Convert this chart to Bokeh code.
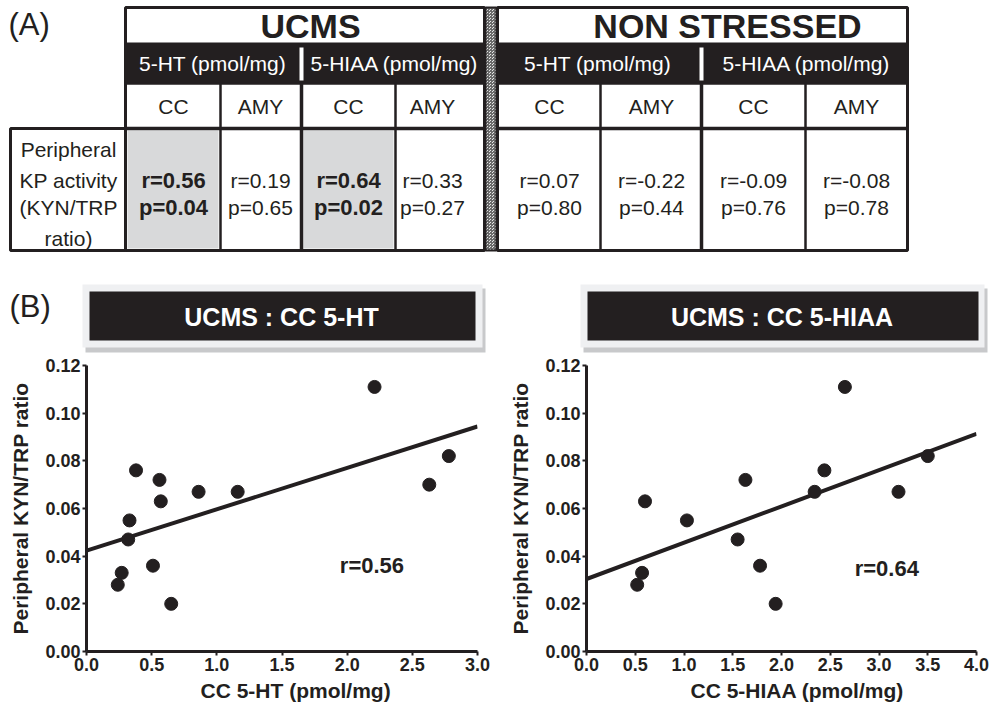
from bokeh.plotting import figure
from bokeh.layouts import column, row
from bokeh.models import Range1d, Label, FixedTicker, PrintfTickFormatter, Title
from bokeh.embed import file_html
from bokeh.resources import INLINE
from bokeh.core.properties import value

FONT = "Liberation Sans"
INK = "#231f20"

# ------------------------------------------------------------------ data
groups = ["UCMS", "NON STRESSED"]
measures = ["5-HT (pmol/mg)", "5-HIAA (pmol/mg)"]
regions = ["CC", "AMY"]
row_label = ["Peripheral", "KP activity", "(KYN/TRP", "ratio)"]
# order: UCMS 5-HT CC, AMY, 5-HIAA CC, AMY, NON STRESSED 5-HT CC, AMY, 5-HIAA CC, AMY
r_values = [0.56, 0.19, 0.64, 0.33, 0.07, -0.22, -0.09, -0.08]
p_values = [0.04, 0.65, 0.02, 0.27, 0.80, 0.44, 0.76, 0.78]

cc_5ht = [2.21, 2.78, 2.63, 0.38, 0.56, 0.57, 0.86, 1.16, 0.33, 0.32, 0.51, 0.27, 0.24, 0.65]
ratio_5ht = [0.111, 0.082, 0.070, 0.076, 0.072, 0.063, 0.067, 0.067, 0.055, 0.047, 0.036, 0.033, 0.028, 0.020]
cc_5hiaa = [2.65, 3.50, 3.20, 2.44, 2.34, 1.63, 0.60, 1.03, 1.55, 1.78, 0.57, 0.52, 1.94]
ratio_5hiaa = [0.111, 0.082, 0.067, 0.076, 0.067, 0.072, 0.063, 0.055, 0.047, 0.036, 0.033, 0.028, 0.020]
fit_5ht = [0.0423, 0.01737]     # intercept, slope
fit_5hiaa = [0.0304, 0.01523]   # intercept, slope
r_5ht_text = "r=0.56"
r_5hiaa_text = "r=0.64"
x_ticks_5ht = [0.0, 0.5, 1.0, 1.5, 2.0, 2.5, 3.0]
x_ticks_5hiaa = [0.0, 0.5, 1.0, 1.5, 2.0, 2.5, 3.0, 3.5, 4.0]
y_ticks = [0.0, 0.02, 0.04, 0.06, 0.08, 0.10, 0.12]

# ------------------------------------------------------------------ layout (pixels)
block_edges = [[125, 220, 301, 395, 484], [497, 600, 701, 805, 907]]
block_title_x = [310, 727]
measure_x = [[212, 394], [597, 806]]
cell_text_x = [[173, 260, 348, 432], [549, 651, 753, 856]]
Y_TOP, Y_H1, Y_H2, Y_H3, Y_BOT = 7, 42, 83, 128, 250


def pix_fig(w, h, y0):
    p = figure(width=w, height=h, x_range=Range1d(0, w), y_range=Range1d(y0 + h, y0),
               output_backend="svg", toolbar_location=None,
               x_axis_type=None, y_axis_type=None, min_border=0)
    p.outline_line_color = None
    p.background_fill_color = "white"
    p.border_fill_color = "white"
    return p


def txt(p, xs, ys, texts, size, color=INK, bold=False, align="center"):
    p.text(x=xs, y=ys, text=texts, text_font=value(FONT), text_font_size=size,
           text_color=color, text_align=align, text_baseline="middle",
           text_font_style="bold" if bold else "normal")


# ------------------------------------------------------------------ table (A)
top = pix_fig(990, 270, 0)
txt(top, [8], [24], ["(A)"], "31px", align="left")

for b, edges in enumerate(block_edges):
    L, R = edges[0], edges[-1]
    top.quad(left=[L], right=[R], top=[Y_TOP], bottom=[Y_BOT], fill_color="white", line_color=None)
    top.quad(left=[L], right=[R], top=[Y_H1], bottom=[Y_H2], fill_color=INK, line_color=None)
    mid = edges[2]
    top.quad(left=[mid - 2], right=[mid + 2], top=[Y_H1 + 5], bottom=[Y_H2 - 3], fill_color="white", line_color=None)
    for c in range(4):
        k = b * 4 + c
        if p_values[k] < 0.05:
            top.quad(left=[edges[c] + 2], right=[edges[c + 1] - 2], top=[Y_H3 + 2], bottom=[Y_BOT - 2],
                     fill_color="#d8d9da", line_color=None)
    # lines
    top.segment(x0=[L], x1=[R], y0=[Y_H2], y1=[Y_H2], line_color=INK, line_width=2.5)
    top.segment(x0=[L], x1=[R], y0=[Y_H3], y1=[Y_H3], line_color=INK, line_width=3.5)
    top.segment(x0=edges[1:4], x1=edges[1:4], y0=[Y_H2] * 3, y1=[Y_BOT] * 3, line_color=INK,
                line_width=[2.5, 3.5, 2.5])
    top.quad(left=[L], right=[R], top=[Y_TOP], bottom=[Y_BOT], fill_color=None, line_color=INK, line_width=3)
    # texts
    txt(top, [block_title_x[b]], [25], [groups[b]], "34px", bold=True)
    txt(top, measure_x[b], [63, 63], measures, "21px", color="white")
    txt(top, cell_text_x[b], [106] * 4, regions * 2, "21px")
    for c in range(4):
        k = b * 4 + c
        sig = p_values[k] < 0.05
        txt(top, [cell_text_x[b][c]] * 2, [180, 207],
            ["r=%.2f" % r_values[k], "p=%.2f" % p_values[k]],
            "22px" if sig else "21px", bold=sig)

# separator between blocks
top.quad(left=[485], right=[496], top=[Y_TOP], bottom=[Y_BOT], fill_color="#e6e6e6",
         hatch_pattern="criss_cross", hatch_scale=3, hatch_color="#6a6a6a", line_color=INK, line_width=2)

# row label cell
top.quad(left=[10], right=[125], top=[Y_H3], bottom=[Y_BOT], fill_color="white", line_color=INK, line_width=3)
txt(top, [68] * 4, [149, 180, 207, 238], row_label, "21px")

# ------------------------------------------------------------------ header (B)
head = pix_fig(990, 85, 270)
txt(head, [9], [306], ["(B)"], "31px", align="left")
boxes = [(82, 482, 89, 475), (580, 984, 587, 978)]
titles = ["UCMS : CC 5-HT", "UCMS : CC 5-HIAA"]
for (fl, fr, bl, br), t in zip(boxes, titles):
    head.quad(left=[fl + 3], right=[fr + 3], top=[288], bottom=[352], fill_color="#c8c9cb", line_color=None)
    head.quad(left=[fl], right=[fr], top=[284], bottom=[347], fill_color="#eff0f2", line_color=None)
    head.quad(left=[bl], right=[br], top=[291], bottom=[340], fill_color=INK, line_color=None)
    txt(head, [(bl + br) / 2 - 1], [316], [t], "25px", color="white", bold=True)


# ------------------------------------------------------------------ scatter plots
def scatter_fig(bl, br, xmax, xticks, xs, ys, fit, rtext, rpos, xlabel, xlab_left):
    p = figure(width=495, height=356, x_range=Range1d(0, xmax), y_range=Range1d(0, 0.12),
               output_backend="svg", toolbar_location=None,
               min_border_left=bl, min_border_right=br, min_border_top=10, min_border_bottom=60)
    p.outline_line_color = None
    p.grid.visible = False
    p.background_fill_color = "white"
    p.border_fill_color = "white"
    p.xaxis.ticker = FixedTicker(ticks=xticks)
    p.xaxis.formatter = PrintfTickFormatter(format="%.1f")
    p.yaxis.ticker = FixedTicker(ticks=y_ticks)
    p.yaxis.formatter = PrintfTickFormatter(format="%.2f")
    for ax in (p.xaxis, p.yaxis):
        ax.axis_line_width = 3
        ax.axis_line_color = INK
        ax.major_tick_line_width = 2
        ax.major_tick_line_color = INK
        ax.major_tick_out = 4
        ax.major_tick_in = 0
        ax.minor_tick_out = 0
        ax.minor_tick_in = 0
        ax.major_label_text_font = FONT
        ax.major_label_text_font_size = "18px"
        ax.major_label_text_font_style = "bold"
        ax.major_label_text_color = INK
        ax.major_label_standoff = 2
        ax.axis_label_text_font = FONT
        ax.axis_label_text_font_size = "21px"
        ax.axis_label_text_font_style = "bold"
        ax.axis_label_text_color = INK
    p.yaxis.axis_label = "Peripheral KYN/TRP ratio"
    p.yaxis.axis_label_standoff = 10
    # x-axis title (set right of frame centre as in the original)
    p.add_layout(Title(text=xlabel, align="left", offset=xlab_left, standoff=6,
                       text_font=FONT, text_font_size="21px", text_font_style="bold",
                       text_color=INK), "below")

    p.line(x=[0, xmax], y=[fit[0], fit[0] + fit[1] * xmax], line_color=INK, line_width=4)
    p.scatter(x=xs, y=ys, size=13, color=INK)
    p.add_layout(Label(x=rpos[0], y=rpos[1], text=rtext, text_font=FONT, text_font_size="22px",
                       text_font_style="bold", text_color=INK, text_align="center",
                       text_baseline="middle"))
    return p


left = scatter_fig(86, 18, 3.0, x_ticks_5ht, cc_5ht, ratio_5ht, fit_5ht, r_5ht_text, (2.19, 0.036),
                   "CC 5-HT (pmol/mg)", 114)
right = scatter_fig(91, 14, 4.0, x_ticks_5hiaa, cc_5hiaa, ratio_5hiaa, fit_5hiaa, r_5hiaa_text, (3.08, 0.035),
                    "CC 5-HIAA (pmol/mg)", 104)

layout = column(top, head, row(left, right))
open("out.html", "w").write(file_html(layout, INLINE))
